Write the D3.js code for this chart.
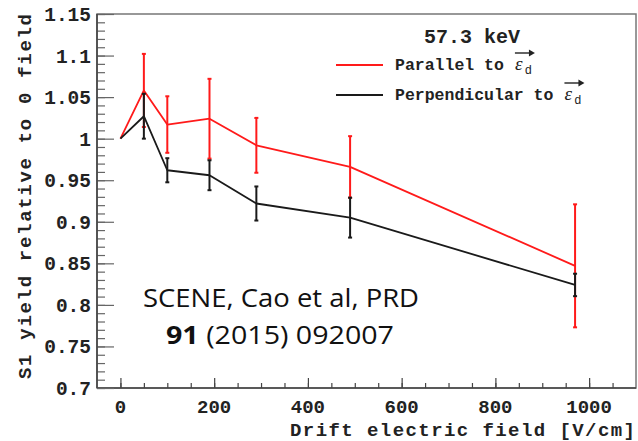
<!DOCTYPE html>
<html>
<head>
<meta charset="utf-8">
<script src="https://cdn.jsdelivr.net/npm/d3@7"></script>
<style>
  html, body { margin: 0; padding: 0; background: #fff; }
  svg { display: block; }
  .mono { font-family: "Liberation Mono", "DejaVu Sans Mono", monospace; font-weight: bold; fill: #222; }
</style>
</head>
<body>
<svg id="chart" width="638" height="441"></svg>
<script>
// Drift field points [V/cm] and relative S1 yield for the two recoil orientations
const fields = [0, 50, 100, 190, 290, 490, 970];
const parallel = [1.0, 1.058, 1.017, 1.024, 0.992, 0.966, 0.847];
const parallelErr = [0, 0.044, 0.034, 0.048, 0.033, 0.037, 0.074];
const perpendicular = [1.0, 1.027, 0.962, 0.956, 0.922, 0.905, 0.824];
const perpendicularErr = [0, 0.027, 0.0145, 0.018, 0.0205, 0.024, 0.0135];

const xTicks = [0, 200, 400, 600, 800, 1000];
const xMinorTicks = d3.range(0, 1100, 50);
const yTicks = [0.7, 0.75, 0.8, 0.85, 0.9, 0.95, 1.0, 1.05, 1.1, 1.15];
const yTickLabels = ["0.7", "0.75", "0.8", "0.85", "0.9", "0.95", "1", "1.05", "1.1", "1.15"];
const yMinorTicks = d3.range(70, 116, 1).map(d => d / 100);

const title = "57.3 keV";
const xTitle = "Drift electric field [V/cm]";
const yTitle = "S1 yield relative to 0 field";
const seriesNames = ["Parallel to", "Perpendicular to"];
const seriesColors = ["#ff1a1a", "#1a1a1a"];
const citation = ["SCENE, Cao et al, PRD", "91", " (2015) 092007"];

const svg = d3.select("#chart");
const plot = { left: 97, right: 636, top: 14, bottom: 388 };

const x = d3.scaleLinear().domain([-50, 1100]).range([plot.left, plot.right]);
const y = d3.scaleLinear().domain([0.7, 1.15]).range([plot.bottom, plot.top]);

// frame
svg.append("rect")
  .attr("x", plot.left).attr("y", plot.top)
  .attr("width", plot.right - plot.left).attr("height", plot.bottom - plot.top)
  .attr("fill", "none").attr("stroke", "#777").attr("stroke-width", 1.5);

// x axis: major and minor ticks pointing inward
const xAxisMajor = d3.axisTop(x).tickValues(xTicks).tickSize(10).tickFormat("");
const xAxisMinor = d3.axisTop(x).tickValues(xMinorTicks).tickSize(5).tickFormat("");
[xAxisMinor, xAxisMajor].forEach(ax => {
  const g = svg.append("g").attr("transform", `translate(0,${plot.bottom})`).call(ax);
  g.select(".domain").remove();
  g.selectAll("line").attr("stroke", "#444").attr("stroke-width", 1.2);
});
svg.append("line").attr("x1", plot.left).attr("x2", plot.right)
  .attr("y1", plot.bottom).attr("y2", plot.bottom).attr("stroke", "#444").attr("stroke-width", 1.6);

svg.append("g").selectAll("text").data(xTicks).join("text")
  .attr("class", "mono").attr("font-size", 19)
  .attr("x", d => x(d)).attr("y", 413).attr("text-anchor", "middle")
  .text(d => d);

// y axis
const yAxisMajor = d3.axisRight(y).tickValues(yTicks).tickSize(17).tickFormat("");
const yAxisMinor = d3.axisRight(y).tickValues(yMinorTicks).tickSize(8).tickFormat("");
[yAxisMinor, yAxisMajor].forEach(ax => {
  const g = svg.append("g").attr("transform", `translate(${plot.left},0)`).call(ax);
  g.select(".domain").remove();
  g.selectAll("line").attr("stroke", "#666").attr("stroke-width", 1.2);
});
svg.append("line").attr("x1", plot.left).attr("x2", plot.left)
  .attr("y1", plot.top).attr("y2", plot.bottom).attr("stroke", "#444").attr("stroke-width", 1.6);

svg.append("g").selectAll("text").data(yTicks).join("text")
  .attr("class", "mono").attr("font-size", 19.5)
  .attr("x", 91).attr("y", d => y(d)).attr("dy", "0.36em").attr("text-anchor", "end")
  .text((d, i) => yTickLabels[i]);

// axis titles
svg.append("text").attr("class", "mono").attr("font-size", 19)
  .attr("x", 635).attr("y", 436).attr("text-anchor", "end")
  .attr("textLength", 345)
  .text(xTitle);

svg.append("text").attr("class", "mono").attr("font-size", 19)
  .attr("transform", `translate(31,14) rotate(-90)`).attr("text-anchor", "end")
  .attr("textLength", 365)
  .text(yTitle);

// series: red first so the black error bars sit on top
const series = [
  { vals: parallel, errs: parallelErr, color: seriesColors[0] },
  { vals: perpendicular, errs: perpendicularErr, color: seriesColors[1] }
];
const line = d3.line().x(d => x(d[0])).y(d => y(d[1]));

series.forEach(s => {
  const pts = fields.map((f, i) => [f, s.vals[i], s.errs[i]]);
  svg.append("path").datum(pts)
    .attr("d", line).attr("fill", "none")
    .attr("stroke", s.color).attr("stroke-width", 1.8).attr("stroke-linejoin", "round");

  const eb = svg.append("g").attr("stroke", s.color).attr("stroke-width", 2);
  pts.filter(p => p[2] > 0).forEach(p => {
    eb.append("line").attr("x1", x(p[0])).attr("x2", x(p[0]))
      .attr("y1", y(p[1] - p[2])).attr("y2", y(p[1] + p[2]));
    [p[1] - p[2], p[1] + p[2]].forEach(v => {
      eb.append("line").attr("x1", x(p[0]) - 2).attr("x2", x(p[0]) + 2)
        .attr("y1", y(v)).attr("y2", y(v));
    });
  });
});

// title
svg.append("text").attr("class", "mono").attr("font-size", 20)
  .attr("x", 472).attr("y", 43).attr("text-anchor", "middle")
  .text(title);

// legend
const legendRows = [70, 100];
seriesNames.forEach((name, i) => {
  const by = legendRows[i];
  svg.append("line").attr("x1", 336).attr("x2", 383)
    .attr("y1", by - 5).attr("y2", by - 5)
    .attr("stroke", seriesColors[i]).attr("stroke-width", 1.8);
  const t = svg.append("text").attr("class", "mono").attr("font-size", 16.5)
    .attr("x", 395).attr("y", by).text(name);
  const w = t.node().getComputedTextLength();
  const ex = 395 + w + 11;
  svg.append("text").attr("x", ex).attr("y", by)
    .attr("font-family", "'Liberation Serif', 'DejaVu Serif', serif")
    .attr("font-style", "italic").attr("font-size", 19).attr("fill", "#222")
    .text("ε");
  svg.append("text").attr("x", ex + 10).attr("y", by + 4)
    .attr("font-family", "'Liberation Sans', sans-serif")
    .attr("font-size", 12).attr("fill", "#222")
    .text("d");
  // vector arrow over the epsilon
  svg.append("line").attr("x1", ex).attr("x2", ex + 18)
    .attr("y1", by - 17).attr("y2", by - 17)
    .attr("stroke", "#222").attr("stroke-width", 1.4);
  svg.append("path")
    .attr("d", `M${ex + 20},${by - 17} L${ex + 14},${by - 20.5} L${ex + 14},${by - 13.5} Z`)
    .attr("fill", "#222");
});

// citation
const cite = svg.append("g")
  .attr("font-family", "'Open Sans', 'Liberation Sans', sans-serif")
  .attr("font-size", 25).attr("fill", "#111");
cite.append("text").attr("x", 281).attr("y", 307).attr("text-anchor", "middle")
  .attr("textLength", 276).attr("lengthAdjust", "spacingAndGlyphs")
  .text(citation[0]);
const c2 = cite.append("text").attr("x", 280).attr("y", 344).attr("text-anchor", "middle")
  .attr("textLength", 228).attr("lengthAdjust", "spacingAndGlyphs");
c2.append("tspan").attr("font-weight", "bold").text(citation[1]);
c2.append("tspan").text(citation[2]);
</script>
</body>
</html>
